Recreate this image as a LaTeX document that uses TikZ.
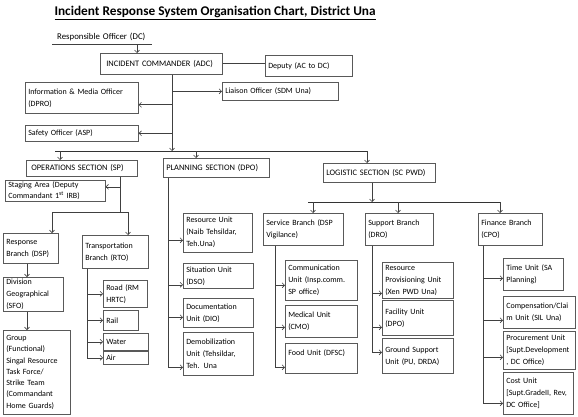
\documentclass[tikz,border=0pt]{standalone}
\usepackage{fontspec}
\setmainfont{Carlito}
\usetikzlibrary{arrows.meta}
\hyphenpenalty=10000
\exhyphenpenalty=10000
\begin{document}
\begin{tikzpicture}[x=1pt,y=-1pt,
  every node/.style={font=\fontsize{8}{12}\selectfont},
  bx/.style 2 args={draw=black!65, line width=0.6pt, anchor=north west, align=left,
    inner xsep=3pt, inner ysep=1pt, minimum width=#1, text width=#1-6pt, minimum height=#2},
  caps/.style={font=\fontsize{8.4}{10}\selectfont},
  ln/.style={draw=black!75, line width=0.6pt},
  arr/.style={ln, -{Straight Barb[length=2.5pt,width=5pt]}},
  bar/.style={draw=black!80, line width=1pt}]
\useasboundingbox (0,0) rectangle (578,417);

% title and top
\node[anchor=west, font=\fontsize{13.3}{15}\selectfont\bfseries] (title) at (51,13)
  {\underline{Incident Response System Organisation Chart, District Una}};
\node[anchor=north west, inner xsep=5pt, inner ysep=1pt, minimum width=100pt,
  text width=90pt, align=left, minimum height=14pt, font=\fontsize{8.8}{11}\selectfont] (ro) at (52,30) {Responsible Officer (DC)};
\draw[ln] (ro.south west) -- (ro.south east);
\node[bx={122pt}{21pt}, caps, inner xsep=6pt, text width=110pt] (ic) at (100,53) {INCIDENT COMMANDER (ADC)};
\node[bx={87pt}{21pt}] (dep) at (265,55) {Deputy (AC to DC)};
\node[bx={113pt}{31pt}] (info) at (25,82) {Information \& Media Officer\\(DPRO)};
\node[bx={116pt}{18pt}] (lia) at (222,82) {Liaison Officer (SDM Una)};
\node[bx={113pt}{16pt}] (saf) at (25,125) {Safety Officer (ASP)};

% sections
\node[bx={111pt}{16pt}, caps, inner xsep=5pt, text width=101pt] (ops) at (26,160) {OPERATIONS SECTION (SP)};
\node[bx={106pt}{19pt}, caps] (pln) at (163,158) {PLANNING SECTION (DPO)};
\node[bx={112pt}{19pt}, caps] (log) at (323,163) {LOGISTIC SECTION (SC PWD)};

% operations
\node[bx={100pt}{21pt}, font=\fontsize{8}{10.5}\selectfont] (stg) at (5,180) {Staging Area (Deputy\\Commandant 1\textsuperscript{st} IRB)};
\node[bx={55pt}{30pt}] (rsp) at (3,233) {Response\\Branch (DSP)};
\node[bx={60pt}{34pt}] (div) at (3,277) {Division\\Geographical\\(SFO)};
\node[bx={67pt}{84pt}, font=\fontsize{8}{11.3}\selectfont] (grp) at (3,330)
  {Group\\(Functional)\\Singal Resource\\Task Force/\\Strike Team\\(Commandant\\Home Guards)};
\node[bx={66pt}{33pt}] (trn) at (82,235) {Transportation\\Branch (RTO)};
\node[bx={44pt}{27pt}] (road) at (103,280) {Road (RM\\HRTC)};
\node[bx={35pt}{20pt}] (rail) at (103,310) {Rail};
\node[bx={45pt}{17pt}] (wat) at (103,333) {Water};
\node[bx={45pt}{13pt}] (air) at (103,351) {Air};

% planning
\node[bx={69pt}{39pt}] (res) at (183,213) {Resource Unit\\(Naib Tehsildar,\\Teh.Una)};
\node[bx={70pt}{25pt}] (sit) at (183,263) {Situation Unit\\(DSO)};
\node[bx={70pt}{29pt}] (doc) at (183,298) {Documentation\\Unit (DIO)};
\node[bx={70pt}{43pt}] (dem) at (183,332) {Demobilization\\Unit (Tehsildar,\\Teh. Una};

% logistic
\node[bx={80pt}{32pt}] (svc) at (263,213) {Service Branch (DSP\\Vigilance)};
\node[bx={72pt}{40pt}] (com) at (285,260) {Communication\\Unit (Insp.comm.\\SP office)};
\node[bx={72pt}{32pt}] (med) at (285,305) {Medical Unit\\(CMO)};
\node[bx={72pt}{30pt}] (food) at (285,343) {Food Unit (DFSC)\\\mbox{}};
\node[bx={68pt}{32pt}] (sup) at (365,213) {Support Branch\\(DRO)};
\node[bx={71pt}{36pt}] (rpu) at (382,262) {Resource\\Provisioning Unit\\(Xen PWD Una)};
\node[bx={71pt}{35pt}] (fac) at (382,300) {Facility Unit\\(DPO)};
\node[bx={71pt}{35pt}] (gsu) at (382,338) {Ground Support\\Unit (PU, DRDA)};
\node[bx={64pt}{32pt}] (fin) at (478,213) {Finance Branch\\(CPO)};
\node[bx={60pt}{32pt}] (time) at (503,258) {Time Unit (SA\\Planning)};
\node[bx={72pt}{32pt}] (comp) at (503,296) {Compensation/Clai\\m Unit (SIL Una)};
\node[bx={72pt}{38pt}] (proc) at (503,331) {Procurement Unit\\{}[Supt.Development\\, DC Office)};
\node[bx={70pt}{42pt}] (cost) at (503,372) {Cost Unit\\{}[Supt.GradeII, Rev,\\DC Office]};

% ---- connectors: top
\coordinate (xro) at (137,0);
\draw[arr] (ro.south -| xro) -- (ic.north -| xro);
\draw[ln] (ic.east) -- (ic.east -| dep.west);
\coordinate (tk) at (172,151);
\draw[arr] (tk |- ic.south) -- (tk);
\draw[arr] (tk |- lia.west) -- (lia.west);
\coordinate (ia) at ([yshift=-7pt]info.east);
\draw[arr] (tk |- ia) -- (ia);
\draw[arr] (tk |- saf.east) -- (saf.east);

% main bar
\coordinate (b0) at (55,151);
\coordinate (b1) at (60,151);
\coordinate (b2) at (196,151);
\coordinate (b3) at (367,151);
\draw[bar] (b0) -- (b3);
\draw[arr] (b1) -- (b1 |- ops.north);
\draw[arr] (b2) -- (b2 |- pln.north);
\draw[arr] (b3) -- (b3 |- log.north);

% operations connectors
\coordinate (o1) at (120,212);
\coordinate (o2) at (52,212);
\coordinate (o3) at (128,212);
\draw[ln] (o1 |- ops.south) -- (o1);
\coordinate (sg) at ([yshift=4pt]stg.east);
\draw[arr] (o1 |- sg) -- (sg);
\draw[ln] (o2) -- (o3);
\draw[arr] (o2) -- (o2 |- rsp.north);
\draw[arr] (o3) -- (o3 |- trn.north);
\coordinate (xr) at (27,0);
\draw[arr] (rsp.south -| xr) -- (div.north -| xr);
\draw[arr] (div.south -| xr) -- (grp.north -| xr);
\coordinate (xt) at (87,0);
\draw[arr] (trn.south -| xt) |- (air.west);
\draw[arr] (road.west -| xt) -- (road.west);
\draw[arr] (rail.west -| xt) -- (rail.west);
\draw[arr] (wat.west -| xt) -- (wat.west);

% planning connectors
\coordinate (xp) at (168,0);
\coordinate (pa) at ([yshift=-7.5pt]res.west);
\coordinate (pb) at ([yshift=-9pt]sit.west);
\coordinate (pc) at ([yshift=-4.5pt]doc.west);
\coordinate (pd) at ([yshift=-13.5pt]dem.west);
\draw[arr] (pln.south -| xp) |- (pd);
\draw[arr] (pa -| xp) -- (pa);
\draw[arr] (pb -| xp) -- (pb);
\draw[arr] (pc -| xp) -- (pc);

% logistic connectors
\coordinate (xl) at (372,0);
\coordinate (lb0) at (308,202);
\coordinate (ls) at (313,202);
\coordinate (lp) at (398,202);
\coordinate (lf) at (500,202);
\draw[arr] (log.south -| xl) -- (xl |- lb0);
\draw[bar] (lb0) -- (lf);
\draw[arr] (ls) -- (ls |- svc.north);
\draw[arr] (lp) -- (lp |- sup.north);
\draw[arr] (lf) -- (lf |- fin.north);

\coordinate (xs) at (275,0);
\coordinate (sa) at ([yshift=-5pt]com.west);
\coordinate (sb) at ([yshift=-6pt]med.west);
\coordinate (sc) at ([yshift=-9pt]food.west);
\draw[arr] (svc.south -| xs) |- (sc);
\draw[arr] (sa -| xs) -- (sa);
\draw[arr] (sb -| xs) -- (sb);

\coordinate (xu) at (372,0);
\coordinate (ua) at ([yshift=-13pt]rpu.west);
\coordinate (ub) at ([yshift=-9.5pt]fac.west);
\coordinate (uc) at ([yshift=3.5pt]gsu.west);
\draw[arr] (sup.south -| xu) |- (uc);
\draw[arr] (ua -| xu) -- (ua);
\draw[arr] (ub -| xu) -- (ub);

\coordinate (xf) at (483,0);
\coordinate (fa) at ([yshift=-4pt]time.west);
\coordinate (fb) at ([yshift=-8pt]comp.west);
\coordinate (fc) at ([yshift=-7pt]proc.west);
\coordinate (fd) at ([yshift=-10pt]cost.west);
\draw[arr] (fin.south -| xf) |- (fd);
\draw[arr] (fa -| xf) -- (fa);
\draw[arr] (fb -| xf) -- (fb);
\draw[arr] (fc -| xf) -- (fc);
\end{tikzpicture}
\end{document}
